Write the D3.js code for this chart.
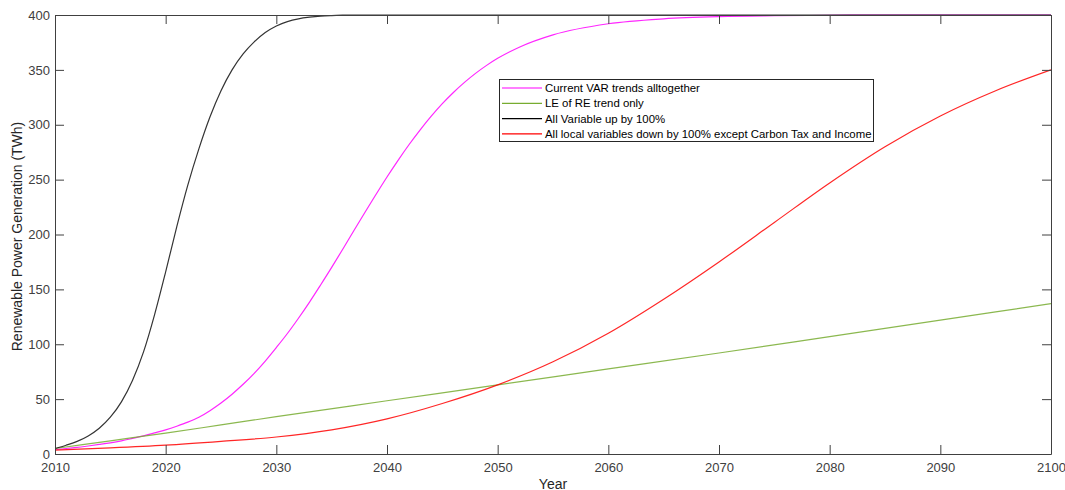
<!DOCTYPE html>
<html>
<head>
<meta charset="utf-8">
<script src="https://cdn.jsdelivr.net/npm/d3@7"></script>
<style>
  html, body { margin: 0; padding: 0; background: #fff; }
  svg { display: block; font-family: Arial, "Liberation Sans", Helvetica, sans-serif; }
</style>
</head>
<body>
<svg id="chart" width="1065" height="490"></svg>
<script>
// Scenario runs of renewable power generation (TWh), by year
const years = [2010,2011,2012,2013,2014,2015,2016,2017,2018,2019,2020,2021,2022,2023,2024,2025,2026,2027,2028,2029,2030,2031,2032,2033,2034,2035,2036,2037,2038,2039,2040,2041,2042,2043,2044,2045,2046,2047,2048,2049,2050,2052,2055,2060,2065,2070,2075,2080,2085,2090,2095,2100];

const currentVar = [4.2,5,6,7.3,8.7,10.2,12,14.2,16.5,19.2,22,25.3,29,33.5,39.5,46.5,54.5,63.5,73.5,84.7,97,109.8,123.7,138.4,154,170,186.6,203.4,220,236.4,252.4,267.6,282,295.4,307.8,319.2,329.4,338.6,346.8,354.1,360.5,370.9,381.9,392,396.5,398.5,399.3,399.7,400,400,400,400];

const allUp = [5,8,11.5,16.5,23.5,33.5,47.5,67,93,127,166,207,245,278,307,331,350,364.5,375.5,384,390,394,396.5,398,399,399.5,399.8,400,400,400,400,400,400,400,400,400,400,400,400,400,400,400,400,400,400,400,400,400,400,400,400,400];

const leYears = [2010,2015,2020,2025,2030,2040,2050,2060,2070,2080,2090,2100];
const leTrend = [5,12,19,26.5,34,48.5,63,77.5,92,107,122,137];

const localYears = [2010,2015,2020,2025,2030,2035,2040,2045,2050,2055,2060,2065,2070,2075,2080,2085,2090,2095,2100];
const localDown = [3.5,5.5,8,11.5,15.5,22,32,46,63,84,110,141,175,211,247,280,308,331,350];

const xTicks = [2010,2020,2030,2040,2050,2060,2070,2080,2090,2100];
const yTicks = [0,50,100,150,200,250,300,350,400];

const legendLabels = [
  "Current VAR trends alltogether",
  "LE of RE trend only",
  "All Variable up by 100%",
  "All local variables down by 100% except Carbon Tax and Income"
];
const colors = ["#ff00ff", "#77ac30", "#000000", "#ff0000"];

const series = [
  { x: years, y: currentVar },
  { x: leYears, y: leTrend },
  { x: years, y: allUp },
  { x: localYears, y: localDown }
];

const svg = d3.select("#chart");
const m = { left: 55, right: 1051, top: 15, bottom: 454 };

const x = d3.scaleLinear().domain([2010, 2100]).range([m.left, m.right]);
const y = d3.scaleLinear().domain([0, 400]).range([m.bottom, m.top]);

const axisColor = "#404040";
const tickLen = 9;

svg.append("clipPath").attr("id", "plotClip")
  .append("rect")
  .attr("x", m.left).attr("y", m.top - 1)
  .attr("width", m.right - m.left).attr("height", m.bottom - m.top + 2);

// Data lines
const line = (s) => d3.line()
  .x((d, i) => x(s.x[i]))
  .y(d => y(d))
  .curve(d3.curveMonotoneX)(s.y);

const lines = svg.append("g").attr("clip-path", "url(#plotClip)");
series.forEach((s, i) => {
  lines.append("path")
    .attr("d", line(s))
    .attr("fill", "none")
    .attr("stroke", colors[i])
    .attr("stroke-width", 1.2)
    .attr("stroke-opacity", i === 2 ? 0.8 : 0.85);
});

// Axes (inward ticks on all four sides)
const bottomAxis = d3.axisBottom(x).tickValues(xTicks).tickFormat(d3.format("d"))
  .tickSizeInner(-tickLen).tickSizeOuter(0).tickPadding(9);
const topAxis = d3.axisTop(x).tickValues(xTicks).tickFormat("")
  .tickSizeInner(-tickLen).tickSizeOuter(0);
const leftAxis = d3.axisLeft(y).tickValues(yTicks).tickFormat(d3.format("d"))
  .tickSizeInner(-tickLen).tickSizeOuter(0).tickPadding(5);
const rightAxis = d3.axisRight(y).tickValues(yTicks).tickFormat("")
  .tickSizeInner(-tickLen).tickSizeOuter(0);

function styleAxis(g) {
  g.select(".domain").attr("stroke", axisColor).attr("stroke-width", 1);
  g.selectAll(".tick line").attr("stroke", axisColor);
  g.selectAll(".tick text").attr("fill", "#404040")
    .style("font-family", "Arial, 'Liberation Sans', sans-serif")
    .style("font-size", "13px");
}

svg.append("g").attr("transform", `translate(0,${m.bottom})`).call(bottomAxis).call(styleAxis);
svg.append("g").attr("transform", `translate(0,${m.top})`).call(topAxis).call(styleAxis);
svg.append("g").attr("transform", `translate(${m.left},0)`).call(leftAxis).call(styleAxis);
svg.append("g").attr("transform", `translate(${m.right},0)`).call(rightAxis).call(styleAxis);

// Axis titles
svg.append("text")
  .attr("x", (m.left + m.right) / 2).attr("y", 489)
  .attr("text-anchor", "middle")
  .attr("fill", "#262626")
  .style("font-size", "14px")
  .text("Year");

svg.append("text")
  .attr("transform", `translate(22,${(m.top + m.bottom) / 2 + 2}) rotate(-90)`)
  .attr("text-anchor", "middle")
  .attr("fill", "#262626")
  .style("font-size", "14px")
  .text("Renewable Power Generation (TWh)");

// Legend
const lg = svg.append("g").attr("transform", "translate(499,79)");
lg.append("rect")
  .attr("x", 0.5).attr("y", 0.5)
  .attr("width", 374).attr("height", 62)
  .attr("fill", "#fff")
  .attr("stroke", "#262626").attr("stroke-width", 1);

legendLabels.forEach((label, i) => {
  const ly = 9 + i * 15.3;
  lg.append("line")
    .attr("x1", 3).attr("x2", 43)
    .attr("y1", ly).attr("y2", ly)
    .attr("stroke", colors[i]).attr("stroke-width", 1.2);
  lg.append("text")
    .attr("x", 46).attr("y", ly + 4)
    .attr("fill", "#000")
    .style("font-size", "11.4px")
    .text(label);
});
</script>
</body>
</html>
